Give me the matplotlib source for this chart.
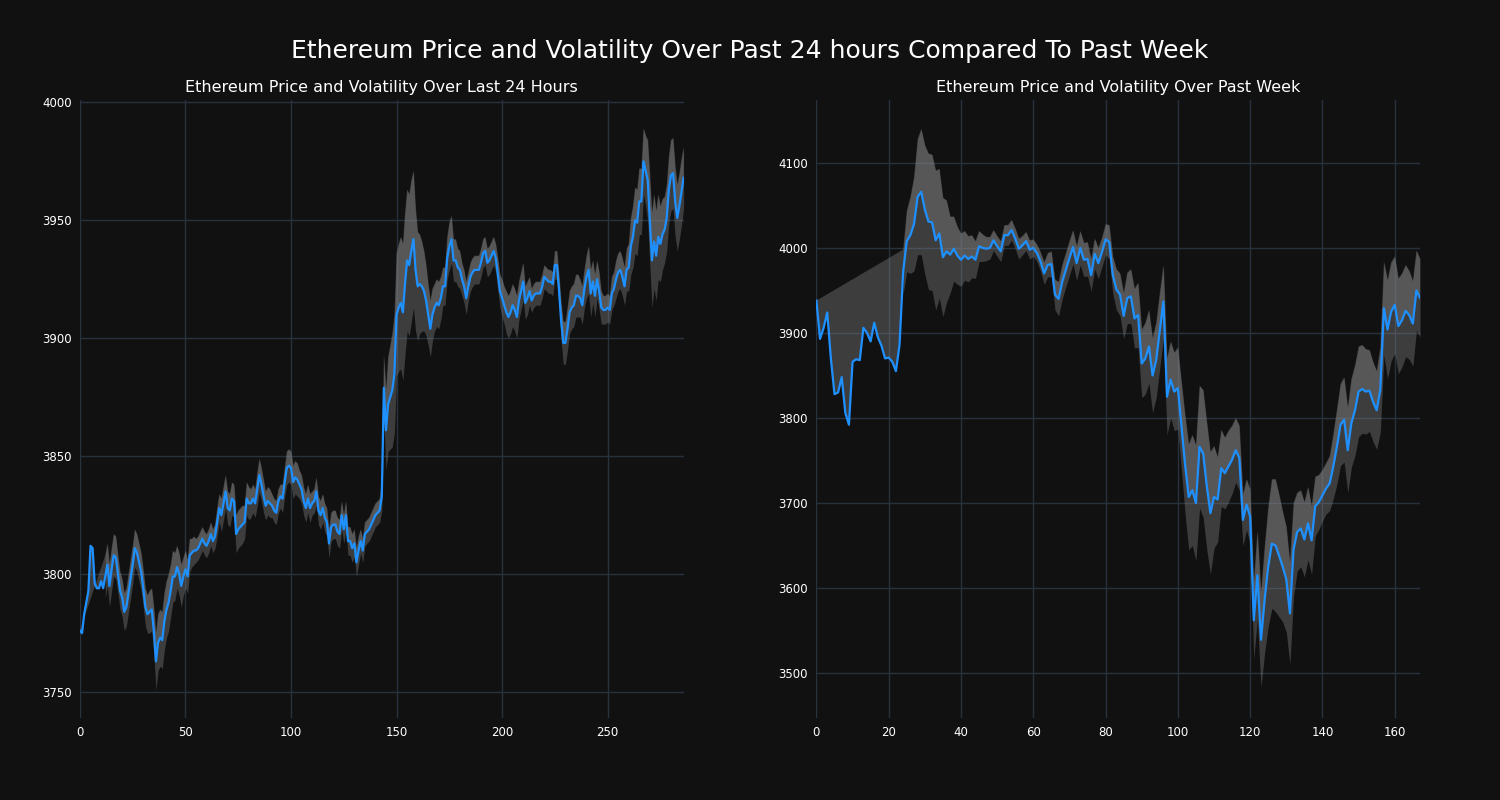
import numpy as np
import matplotlib
matplotlib.use("Agg")
import matplotlib.pyplot as plt

nan = np.nan

# last 24 hours (5 min steps)
day_price = [
    3776, 3775, 3783, 3788, 3793, 3812, 3811, 3796, 3794, 3794,
    3797, 3794, 3799, 3804, 3795, 3802, 3808, 3807, 3800, 3793,
    3790, 3784, 3786, 3792, 3798, 3804, 3811, 3809, 3805, 3801,
    3794, 3786, 3783, 3784, 3785, 3776, 3763, 3771, 3773, 3772,
    3780, 3785, 3788, 3793, 3799, 3799, 3803, 3800, 3795, 3799,
    3802, 3799, 3808, 3809, 3810, 3810, 3811, 3813, 3815, 3813,
    3812, 3814, 3817, 3814, 3816, 3822, 3828, 3825, 3830, 3835,
    3828, 3827, 3832, 3831, 3817, 3819, 3820, 3821, 3822, 3832,
    3830, 3830, 3832, 3830, 3836, 3842, 3838, 3833, 3829, 3831,
    3830, 3829, 3827, 3826, 3831, 3833, 3832, 3839, 3845, 3846,
    3845, 3839, 3841, 3840, 3838, 3836, 3831, 3828, 3832, 3828,
    3830, 3831, 3835, 3827, 3825, 3828, 3824, 3822, 3813, 3820,
    3821, 3821, 3818, 3817, 3825, 3819, 3825, 3814, 3814, 3811,
    3813, 3805, 3810, 3814, 3810, 3817, 3818, 3819, 3821, 3823,
    3825, 3826, 3827, 3833, 3879, 3861, 3872, 3875, 3878, 3885,
    3910, 3913, 3915, 3911, 3923, 3933, 3931, 3937, 3942, 3929,
    3922, 3923, 3922, 3920, 3916, 3910, 3904, 3910, 3913, 3915,
    3914, 3917, 3922, 3922, 3934, 3939, 3942, 3933, 3933, 3930,
    3929, 3925, 3922, 3917, 3922, 3926, 3928, 3929, 3929, 3929,
    3932, 3936, 3937, 3932, 3933, 3935, 3937, 3934, 3927, 3920,
    3917, 3914, 3911, 3909, 3911, 3914, 3912, 3909, 3916, 3920,
    3924, 3915, 3917, 3920, 3916, 3918, 3919, 3919, 3919, 3922,
    3926, 3925, 3924, 3924, 3923, 3931, 3931, 3920, 3907, 3898,
    3898, 3904, 3911, 3913, 3914, 3918, 3918, 3917, 3914, 3921,
    3926, 3929, 3919, 3924, 3918, 3925, 3920, 3913, 3912, 3912,
    3913, 3912, 3919, 3921, 3925, 3928, 3929, 3926, 3922, 3929,
    3930, 3939, 3943, 3950, 3949, 3958, 3958, 3975, 3971, 3967,
    3950, 3933, 3941, 3935, 3943, 3940, 3944, 3946, 3951, 3963,
    3969, 3970, 3958, 3951, 3956, 3962, 3968,
]
day_vol = [
    nan, nan, nan, nan, nan, nan, nan, nan, nan, nan,
    nan, nan, 9, 9, 9, 9, 9, 9, 8, 8,
    8, 8, 8, 8, 8, 8, 8, 8, 8, 8,
    8, 8, 8, 9, 9, 10, 12, 12, 12, 12,
    12, 12, 12, 11, 11, 10, 9, 9, 9, 8,
    8, 7, 7, 6, 6, 5, 5, 5, 5, 5,
    5, 5, 5, 5, 5, 6, 6, 7, 7, 7,
    7, 7, 7, 7, 8, 8, 8, 8, 7, 7,
    7, 6, 6, 6, 7, 7, 7, 7, 6, 6,
    6, 5, 5, 5, 5, 5, 6, 6, 7, 7,
    7, 7, 7, 7, 6, 6, 6, 6, 6, 6,
    5, 5, 6, 6, 6, 6, 6, 6, 6, 6,
    6, 6, 6, 6, 6, 6, 6, 6, 6, 6,
    6, 6, 6, 5, 5, 5, 5, 5, 5, 5,
    5, 5, 5, 6, 14, 17, 20, 22, 24, 25,
    26, 27, 28, 29, 30, 30, 30, 30, 29, 26,
    23, 21, 19, 17, 15, 13, 12, 11, 10, 10,
    10, 9, 8, 8, 9, 10, 10, 9, 9, 8,
    8, 7, 7, 7, 6, 6, 6, 6, 6, 6,
    6, 6, 6, 6, 6, 6, 6, 6, 7, 7,
    8, 8, 9, 9, 9, 9, 9, 9, 8, 8,
    8, 7, 7, 6, 5, 5, 5, 5, 5, 5,
    5, 5, 5, 5, 5, 6, 6, 7, 8, 9,
    9, 9, 9, 9, 9, 9, 9, 8, 8, 8,
    9, 10, 10, 9, 9, 8, 8, 7, 6, 6,
    6, 6, 7, 7, 8, 8, 8, 8, 8, 9,
    10, 12, 13, 14, 14, 14, 14, 14, 15, 17,
    19, 20, 20, 19, 18, 16, 15, 14, 14, 14,
    15, 15, 15, 14, 14, 14, 13,
]

# past week (hourly)
week_price = [
    3938, 3893, 3906, 3924, 3870, 3828, 3830, 3848, 3806, 3792,
    3866, 3869, 3868, 3906, 3900, 3890, 3912, 3895, 3885, 3870,
    3871, 3866, 3855, 3886, 3972, 4008, 4015, 4028, 4060, 4066,
    4045, 4031, 4030, 4009, 4017, 3989, 3996, 3992, 3999, 3991,
    3986, 3991, 3987, 3990, 3986, 4002, 4000, 3999, 4000, 4009,
    4002, 3996, 4015, 4015, 4021, 4011, 3999, 4003, 4008, 3998,
    4000, 3994, 3984, 3970, 3980, 3981, 3945, 3940, 3960, 3974,
    3988, 4001, 3982, 4000, 3986, 3987, 3968, 3993, 3982, 3995,
    4010, 4007, 3968, 3951, 3945, 3920, 3941, 3943, 3917, 3921,
    3864, 3870, 3884, 3850, 3868, 3903, 3937, 3825, 3845, 3831,
    3835, 3790, 3745, 3707, 3715, 3700, 3766, 3758, 3720, 3688,
    3707, 3704, 3741, 3735, 3743, 3751, 3762, 3753, 3680, 3698,
    3684, 3562, 3615, 3539, 3586, 3625, 3652, 3650, 3638, 3625,
    3610, 3570, 3645, 3666, 3670, 3657, 3676, 3656, 3696, 3701,
    3709, 3717, 3723, 3743, 3766, 3792, 3798, 3762, 3794, 3809,
    3831, 3834, 3831, 3832, 3819, 3809, 3833, 3929, 3904, 3925,
    3933, 3908, 3915, 3926, 3921, 3911, 3950, 3941,
]
week_vol = [
    nan, nan, nan, nan, nan, nan, nan, nan, nan, nan,
    nan, nan, nan, nan, nan, nan, nan, nan, nan, nan,
    nan, nan, nan, nan, 26, 36, 45, 55, 68, 74,
    76, 80, 80, 82, 76, 70, 60, 45, 38, 34,
    31, 29, 27, 25, 22, 18, 16, 14, 13, 12,
    12, 12, 12, 12, 12, 12, 12, 11, 11, 11,
    10, 10, 11, 13, 14, 15, 18, 20, 20, 20,
    20, 20, 20, 20, 20, 20, 19, 18, 18, 17,
    18, 20, 22, 24, 25, 27, 30, 32, 35, 38,
    40, 42, 43, 44, 44, 44, 43, 45, 45, 46,
    48, 52, 58, 62, 65, 68, 72, 75, 75, 72,
    60, 50, 45, 42, 42, 40, 38, 38, 30, 30,
    32, 45, 52, 56, 62, 70, 76, 78, 72, 65,
    62, 60, 55, 46, 45, 44, 43, 40, 35, 32,
    30, 30, 32, 38, 44, 48, 50, 50, 52, 53,
    53, 52, 50, 48, 47, 46, 50, 55, 58, 58,
    57, 56, 55, 54, 52, 50, 47, 46,
]

BG = "#111111"
GRID = "#28323e"
LINE = "#1e90ff"


def draw(ax, price, vol, title, ylim):
    price = np.array(price, dtype=float)
    vol = np.array(vol, dtype=float)
    x = np.arange(len(price))
    upper, lower = price + vol, price - vol
    ok = ~np.isnan(vol)
    # band, plus price->upper polygon (gives the lighter upper half)
    ax.fill_between(x, lower, upper, color="grey", alpha=0.4, lw=0)
    px = np.concatenate([x[ok], x[::-1]])
    py = np.concatenate([upper[ok], price[::-1]])
    ax.fill(px, py, color="grey", alpha=0.4, lw=0)
    ax.plot(x, price, color=LINE, lw=1.6)
    ax.set_xlim(0, len(price) - 1)
    ax.set_ylim(*ylim)
    ax.set_facecolor(BG)
    ax.set_title(title, color="white", fontsize=11.5)
    ax.grid(True, color=GRID, lw=1)
    ax.set_axisbelow(True)
    for s in ax.spines.values():
        s.set_visible(False)
    ax.tick_params(colors="white", labelsize=8.5, length=0, pad=6)


fig, (ax1, ax2) = plt.subplots(1, 2, figsize=(15, 8), dpi=100, facecolor=BG)
fig.subplots_adjust(left=0.0533, right=0.9467, top=0.875, bottom=0.1025, wspace=0.22)
draw(ax1, day_price, day_vol, "Ethereum Price and Volatility Over Last 24 Hours", (3739, 4001))
draw(ax2, week_price, week_vol, "Ethereum Price and Volatility Over Past Week", (3447, 4174))
fig.suptitle("Ethereum Price and Volatility Over Past 24 hours Compared To Past Week",
             color="white", fontsize=18, y=0.951)
fig.savefig("out.png", facecolor=BG)
